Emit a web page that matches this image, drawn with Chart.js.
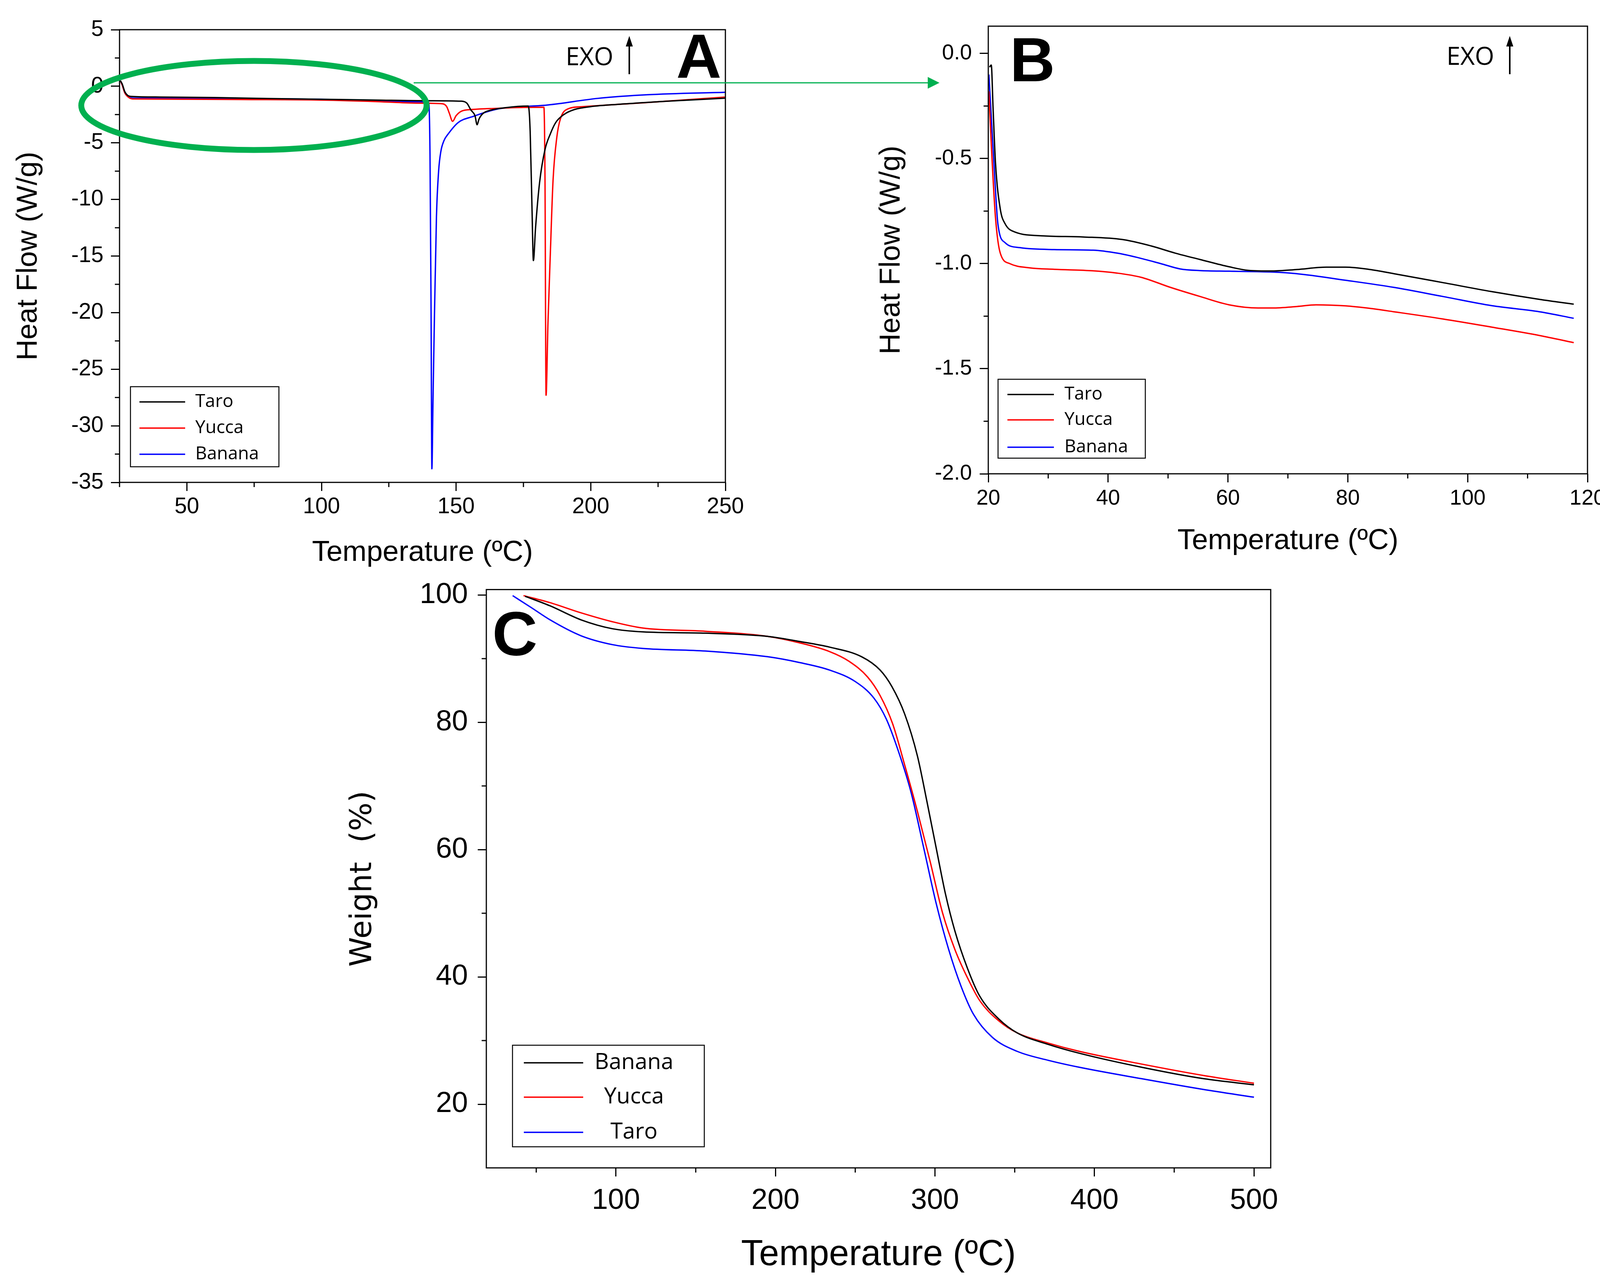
<!DOCTYPE html>
<html><head><meta charset="utf-8">
<script src="https://cdn.jsdelivr.net/npm/chart.js@4/dist/chart.umd.min.js"></script>
<style>
html,body{margin:0;padding:0;background:#fff;width:4151px;height:3295px;overflow:hidden;}
canvas{position:absolute;}
</style></head><body>
<canvas id="cA" width="2450" height="1470" style="left:0px;top:0px;width:2450px;height:1470px"></canvas>
<canvas id="cB" width="1951" height="1470" style="left:2200px;top:0px;width:1951px;height:1470px"></canvas>
<canvas id="cC" width="2503" height="1855" style="left:850px;top:1440px;width:2503px;height:1855px"></canvas>
<script>
// ---------- Panel A : DSC, Heat Flow (W/g) vs Temperature (ºC) ----------
const seriesNamesA = ['Taro', 'Yucca', 'Banana'];
const dscTaroA = [[25.3,0.5],[26,0.2],[27,-0.5],[28,-0.8],[29.5,-0.9],[40,-0.95],[60,-1.0],[80,-1.08],[100,-1.15],[120,-1.22],[140,-1.28],[152,-1.32],[154,-1.5],[155.5,-2.1],[157,-2.6],[157.8,-3.4],[158.5,-2.9],[160,-2.4],[163,-2.1],[168,-1.9],[176.8,-1.75],[177.5,-4],[178.2,-11],[178.7,-15.4],[179.5,-12.5],[181,-8.5],[183,-5.6],[185,-4.2],[187,-3.2],[190,-2.5],[194,-2.05],[200,-1.8],[210,-1.6],[230,-1.3],[250,-1.05]];
const dscYuccaA = [[25.3,0.5],[26,0.1],[27,-0.6],[28.5,-1.0],[30,-1.12],[50,-1.14],[70,-1.17],[100,-1.22],[120,-1.35],[130,-1.45],[140,-1.5],[145,-1.55],[146.5,-1.8],[147.5,-2.4],[148.7,-3.1],[150,-2.6],[152,-2.2],[156,-2.05],[165,-1.95],[175,-1.87],[182.6,-1.85],[183.0,-8],[183.4,-27.3],[184.1,-21],[185,-14.7],[186,-8.3],[187.4,-4.5],[188.7,-2.9],[191.5,-2.0],[197,-1.8],[220,-1.45],[250,-0.95]];
const dscBananaA = [[25.3,0.5],[26,0.1],[27,-0.6],[28.5,-0.95],[30,-1.05],[50,-1.07],[80,-1.1],[100,-1.15],[120,-1.3],[135,-1.38],[139.8,-1.42],[140.3,-6],[140.7,-20],[141.0,-33.8],[141.4,-28],[141.9,-21],[142.7,-11.5],[143.5,-7.5],[144.3,-5.8],[145.5,-4.8],[147.1,-4.2],[150.8,-3.2],[156.4,-2.66],[165.6,-2.0],[175,-1.8],[184.1,-1.65],[202.6,-1.07],[221.1,-0.75],[250,-0.53]];
const xTicksA = [50, 100, 150, 200, 250];
const xMinorA = [25, 75, 125, 175, 225];
const yTicksA = [-35, -30, -25, -20, -15, -10, -5, 0, 5];
const yMinorA = [-32.5, -27.5, -22.5, -17.5, -12.5, -7.5, -2.5, 2.5];

// ---------- Panel B : DSC zoom 20-120 ºC ----------
const seriesNamesB = ['Taro', 'Yucca', 'Banana'];
const dscTaroB = [[20.2,-0.065],[20.5,-0.055],[20.8,-0.26],[21.2,-0.52],[22.0,-0.74],[22.8,-0.81],[24.5,-0.85],[29.3,-0.868],[35.8,-0.873],[42.3,-0.885],[47.2,-0.916],[51.2,-0.95],[55.3,-0.98],[60.2,-1.015],[63.4,-1.032],[67.4,-1.035],[71.5,-1.028],[76.4,-1.017],[79.6,-1.017],[83.7,-1.028],[87.7,-1.048],[95.8,-1.09],[104,-1.133],[112,-1.17],[117.7,-1.193]];
const dscYuccaB = [[20.1,-0.18],[20.5,-0.43],[21.2,-0.78],[22,-0.95],[23.6,-1.0],[26.9,-1.02],[31,-1.027],[37.4,-1.034],[41.5,-1.045],[45.5,-1.065],[50.4,-1.113],[55.3,-1.156],[60.2,-1.196],[65,-1.211],[67.4,-1.211],[71.5,-1.204],[74.7,-1.196],[79.6,-1.201],[83.7,-1.213],[87.7,-1.229],[95.8,-1.263],[104,-1.302],[112,-1.342],[117.7,-1.376]];
const dscBananaB = [[20.1,-0.10],[20.6,-0.35],[21.0,-0.55],[21.6,-0.81],[22.8,-0.90],[25.3,-0.924],[31,-0.933],[37.5,-0.936],[41.5,-0.95],[44.8,-0.97],[48.8,-1.0],[52,-1.025],[55.3,-1.033],[60.2,-1.036],[67.4,-1.04],[71.5,-1.048],[79.6,-1.079],[87.7,-1.113],[95.8,-1.156],[104,-1.2],[112,-1.229],[117.7,-1.26]];
const xTicksB = [20, 40, 60, 80, 100, 120];
const xMinorB = [30, 50, 70, 90, 110];
const yTicksB = [-2.0, -1.5, -1.0, -0.5, 0.0];
const yMinorB = [-1.75, -1.25, -0.75, -0.25];

// ---------- Panel C : TGA, Weight (%) vs Temperature (ºC) ----------
const seriesNamesC = ['Banana', 'Yucca', 'Taro'];
const tgaBananaC = [[43,99.8],[58.6,98.3],[78,96.1],[97.7,94.7],[117,94.2],[156,94.0],[195,93.5],[215,92.7],[234,91.8],[254,90.3],[265.6,88.2],[273,85.6],[281,81.3],[289,74.7],[295,67.5],[300.8,60.2],[306.6,53.0],[312.5,47.2],[320.3,41.4],[328,37],[340,33.4],[351.6,31.2],[371,29.4],[390.6,28],[429.7,25.8],[468.7,24],[500,23.05]];
const tgaYuccaC = [[42,99.9],[58.6,98.8],[78,97.2],[97.7,95.8],[117,94.8],[156,94.3],[195,93.5],[214.8,92.5],[234,91.1],[246,89.6],[257.8,87.1],[265.6,84.2],[273.4,79.8],[281,73.3],[289,66],[297,58.1],[304.7,50.1],[312.5,44.3],[320.3,39.9],[328,36.3],[340,33.1],[351.6,31.2],[371,29.6],[390.6,28.3],[429.7,26.3],[468.7,24.5],[500,23.3]];
const tgaTaroC = [[35.2,99.9],[47,98],[58.6,96.1],[78,93.6],[97.7,92.2],[117,91.6],[156,91.2],[195,90.3],[214.8,89.4],[234,88.2],[250,86.4],[261.7,83.8],[269.5,80.5],[277,75.5],[285,69],[293,60.2],[300.8,51.5],[308.6,44.3],[316.4,38.5],[324.2,34.1],[336,30.5],[351.6,28.3],[371,26.9],[390.6,25.8],[429.7,24],[468.7,22.3],[500,21.1]];
const xTicksC = [100, 200, 300, 400, 500];
const xMinorC = [50, 150, 250, 350, 450];
const yTicksC = [20, 40, 60, 80, 100];
const yMinorC = [30, 50, 70, 90];

const seriesColors = ['#000000', '#ff0000', '#0000ff'];

// ---------- helpers ----------
function pts(arr) { return arr.map(p => ({x: p[0], y: p[1]})); }
function ds(label, arr, color) {
  return {label: label, data: pts(arr), borderColor: color, backgroundColor: color,
    borderWidth: 3.5, pointRadius: 0, showLine: true, fill: false, tension: 0,
    cubicInterpolationMode: 'monotone'};
}
function seg(ctx, x0, y0, x1, y1) { ctx.beginPath(); ctx.moveTo(x0, y0); ctx.lineTo(x1, y1); ctx.stroke(); }
function upArrow(ctx, x, yTop, yBot) {
  ctx.strokeStyle = '#000'; ctx.fillStyle = '#000'; ctx.lineWidth = 4;
  seg(ctx, x, yBot, x, yTop + 20);
  ctx.beginPath(); ctx.moveTo(x, yTop); ctx.lineTo(x - 9, yTop + 27); ctx.lineTo(x + 9, yTop + 27); ctx.closePath(); ctx.fill();
}
function decor(cfg) {
  return {
    id: 'decor' + cfg.name,
    afterDraw(chart) {
      const ctx = chart.ctx, a = chart.chartArea, sx = chart.scales.x, sy = chart.scales.y;
      ctx.save();
      ctx.strokeStyle = '#000'; ctx.lineWidth = 3;
      ctx.strokeRect(a.left, a.top, a.right - a.left, a.bottom - a.top);
      cfg.minorX.forEach(v => { const p = sx.getPixelForValue(v); seg(ctx, p, a.bottom, p, a.bottom + 12); });
      cfg.minorY.forEach(v => { const p = sy.getPixelForValue(v); seg(ctx, a.left, p, a.left - 12, p); });
      const L = cfg.legend;
      ctx.fillStyle = '#fff'; ctx.fillRect(L.x, L.y, L.w, L.h);
      ctx.strokeStyle = '#000'; ctx.lineWidth = 2.5; ctx.strokeRect(L.x, L.y, L.w, L.h);
      ctx.font = L.font; ctx.textBaseline = 'middle'; ctx.textAlign = L.align;
      chart.data.datasets.forEach((d, i) => {
        const yy = L.rows[i];
        ctx.strokeStyle = d.borderColor; ctx.lineWidth = 3.3;
        seg(ctx, L.lx0, yy, L.lx1, yy);
        ctx.fillStyle = '#000';
        ctx.fillText(d.label, L.tx, yy);
      });
      ctx.textBaseline = 'alphabetic';
      ctx.textAlign = 'center'; ctx.fillStyle = '#000';
      ctx.font = "bold 160px 'Liberation Sans Narrow', 'Liberation Sans', sans-serif";
      ctx.fillText(cfg.letter.text, cfg.letter.x, cfg.letter.y);
      if (cfg.exo) {
        ctx.textAlign = 'left'; ctx.font = "64px 'Open Sans', sans-serif";
        ctx.fillText('EXO', cfg.exo.x, cfg.exo.y);
        upArrow(ctx, cfg.exo.ax, 92, 190);
      }
      if (cfg.extra) cfg.extra(ctx);
      ctx.restore();
    }
  };
}
function axisCommon(min, max, tickVals, fmt, fontSize, tickPad, title, titleFont, titlePad, fit) {
  return {
    type: 'linear', min: min, max: max,
    afterBuildTicks: ax => { ax.ticks = tickVals.map(v => ({value: v})); },
    afterFit: fit,
    border: {display: false},
    grid: {display: true, drawOnChartArea: false, drawTicks: true, tickLength: 22, tickWidth: 3, tickColor: '#000', color: '#000'},
    ticks: {color: '#000', font: {family: "'Liberation Sans', Arial, sans-serif", size: fontSize}, padding: tickPad,
      maxRotation: 0, minRotation: 0, autoSkip: false, callback: fmt},
    title: {display: true, text: title, color: '#000', font: titleFont, padding: titlePad}
  };
}
const baseOpts = {responsive: false, animation: false, devicePixelRatio: 1, maintainAspectRatio: false,
  plugins: {legend: {display: false}, tooltip: {enabled: false}}};

// ---------- Chart A ----------
new Chart(document.getElementById('cA'), {
  type: 'scatter',
  data: {datasets: [ds(seriesNamesA[0], dscTaroA, seriesColors[0]), ds(seriesNamesA[1], dscYuccaA, seriesColors[1]), ds(seriesNamesA[2], dscBananaA, seriesColors[2])]},
  options: Object.assign({}, baseOpts, {
    layout: {padding: {left: 0, top: 76, right: 2450 - 1857, bottom: 0}},
    scales: {
      x: axisCommon(25, 250, xTicksA, v => String(v), 57, 7, 'Temperature (ºC)', {family: "'Liberation Sans', Arial, sans-serif", size: 74}, {top: 0, bottom: 10}, s => { s.height = 235; }),
      y: axisCommon(-35, 5, yTicksA, v => String(v), 57, 19, 'Heat Flow (W/g)', {family: "'Liberation Sans', Arial, sans-serif", size: 74}, {top: 29, bottom: 0}, s => { s.width = 306; })
    }
  }),
  plugins: [decor({name: 'A', minorX: xMinorA, minorY: yMinorA,
    legend: {x: 334, y: 990, w: 380, h: 205, rows: [1029, 1096, 1163], lx0: 357, lx1: 474, tx: 500, align: 'left', font: "46px 'Open Sans', sans-serif"},
    letter: {text: 'A', x: 1789, y: 199},
    exo: {x: 1448, y: 167, ax: 1611},
    extra: ctx => {
      ctx.strokeStyle = '#00b04f'; ctx.lineWidth = 15;
      ctx.beginPath(); ctx.ellipse(650, 270, 442, 114, 0, 0, Math.PI * 2); ctx.stroke();
      ctx.strokeStyle = '#00b050'; ctx.fillStyle = '#00b050'; ctx.lineWidth = 3;
      seg(ctx, 1059, 212, 2380, 212);
      ctx.beginPath(); ctx.moveTo(2405, 212); ctx.lineTo(2375, 197); ctx.lineTo(2375, 227); ctx.closePath(); ctx.fill();
    }})]
});

// ---------- Chart B ----------
new Chart(document.getElementById('cB'), {
  type: 'scatter',
  data: {datasets: [ds(seriesNamesB[0], dscTaroB, seriesColors[0]), ds(seriesNamesB[1], dscYuccaB, seriesColors[1]), ds(seriesNamesB[2], dscBananaB, seriesColors[2])]},
  options: Object.assign({}, baseOpts, {
    layout: {padding: {left: 0, top: 67, right: 87, bottom: 0}},
    scales: {
      x: axisCommon(20, 120, xTicksB, v => String(v), 55, 9, 'Temperature (ºC)', {family: "'Liberation Sans', Arial, sans-serif", size: 74}, {top: 0, bottom: 40}, s => { s.height = 257; }),
      y: axisCommon(-2.0, 0.13, yTicksB, v => Number(v).toFixed(1), 55, 20, 'Heat Flow (W/g)', {family: "'Liberation Sans', Arial, sans-serif", size: 74}, {top: 38, bottom: 0}, s => { s.width = 330; })
    }
  }),
  plugins: [decor({name: 'B', minorX: xMinorB, minorY: yMinorB,
    legend: {x: 355, y: 971, w: 377, h: 202, rows: [1010, 1075, 1145], lx0: 379, lx1: 498, tx: 525, align: 'left', font: "46px 'Open Sans', sans-serif"},
    letter: {text: 'B', x: 443, y: 208},
    exo: {x: 1503, y: 166, ax: 1665}})]
});

// ---------- Chart C ----------
new Chart(document.getElementById('cC'), {
  type: 'scatter',
  data: {datasets: [ds(seriesNamesC[0], tgaBananaC, seriesColors[0]), ds(seriesNamesC[1], tgaYuccaC, seriesColors[1]), ds(seriesNamesC[2], tgaTaroC, seriesColors[2])]},
  options: Object.assign({}, baseOpts, {
    layout: {padding: {left: 0, top: 52, right: 100, bottom: 0}},
    scales: {
      x: axisCommon(18.7, 510.5, xTicksC, v => String(v), 74, 18, 'Temperature (ºC)', {family: "'Liberation Sans', Arial, sans-serif", size: 92}, {top: 0, bottom: 26}, s => { s.height = 305; }),
      y: axisCommon(10, 100.85, yTicksC, v => String(v), 74, 25, 'Weight  (%)', {family: "'DejaVu Sans', sans-serif", size: 77}, {top: 34, bottom: 0}, s => { s.width = 395; })
    }
  }),
  plugins: [decor({name: 'C', minorX: xMinorC, minorY: yMinorC,
    legend: {x: 462, y: 1236, w: 491, h: 260, rows: [1281, 1369, 1459], lx0: 491, lx1: 643, tx: 773, align: 'center', font: "57px 'Open Sans', sans-serif"},
    letter: {text: 'C', x: 468, y: 237}})]
});
</script>
</body></html>
